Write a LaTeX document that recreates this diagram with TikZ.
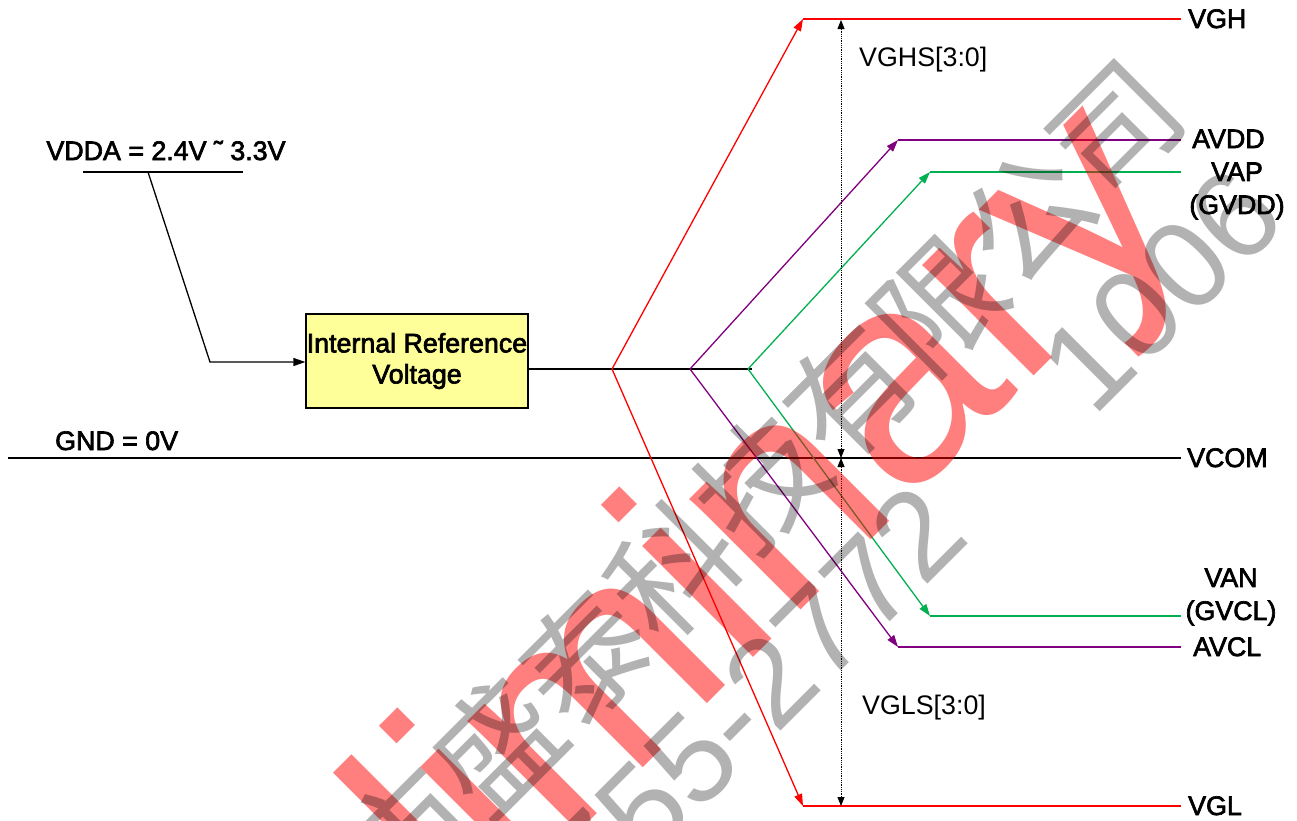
\documentclass[tikz,border=0pt]{standalone}
\usepackage{fontspec}
\setmainfont{Liberation Sans}
\newfontfamily\heavy[FakeBold=2.5]{Liberation Sans}
\newfontfamily\cjk{Noto Sans CJK SC}
\usetikzlibrary{arrows.meta}
\definecolor{vred}{RGB}{255,0,0}
\definecolor{vpurple}{RGB}{128,0,128}
\definecolor{vgreen}{RGB}{0,176,80}
\definecolor{boxyellow}{RGB}{255,255,153}
\begin{document}
\begin{tikzpicture}[x=1pt,y=-1pt,
  lbl/.style={inner sep=0pt, font=\heavy\fontsize{26.8}{33}\selectfont},
  note/.style={inner sep=0pt, font=\fontsize{26.8}{33}\selectfont},
  refbox/.style={draw=black, line width=1.3pt, fill=boxyellow, minimum width=222pt,
    minimum height=94pt, inner sep=0pt, align=center, font=\heavy\fontsize{26.8}{31}\selectfont},
  rail/.style={line width=2.2pt},
  ramp/.style={line width=1.3pt, -{Triangle[length=12pt,width=8pt]}},
  wire/.style={line width=1.3pt, black},
  feed/.style={wire, -{Triangle[length=12pt,width=8pt]}},
  dimline/.style={line width=0.8pt, densely dotted,
    {Triangle[length=9pt,width=7pt]}-{Triangle[length=9pt,width=7pt]}},
  wmred/.style={inner sep=0pt, text=red, text opacity=0.5, font=\fontsize{297}{300}\selectfont},
  wmgray/.style={inner sep=0pt, text=black, text opacity=0.3, font=\fontsize{125}{130}\selectfont}
]
\useasboundingbox (0,0) rectangle (1297,820);
\fill[white] (0,0) rectangle (1297,820);

% ---- input side ----
\node[lbl, anchor=base] (vdda) at (166,160) {VDDA = 2.4V ˜ 3.3V};
\coordinate (ulL) at (83,172);
\coordinate (ulR) at (243,172);
\coordinate (tap) at (148,172);
\coordinate (bend) at (210,362);
\draw[wire] (ulL) -- (ulR);
\node[refbox] (ref) at (417,361) {Internal Reference\\Voltage};
\draw[feed] (tap) -- (bend) -- (ref.west |- bend);

\node[lbl, anchor=base west] (gnd) at (55,450) {GND = 0V};

% ---- split points ----
\coordinate (outS) at (528,369);
\coordinate (vgS) at (612,369);
\coordinate (avS) at (690,369);
\coordinate (vpS) at (748,369);
\coordinate (outE) at (752,369);
\draw[wire] (outS) -- (outE);

% ---- corners and rail ends ----
\coordinate (vghC) at (803,19);   \coordinate (vghE) at (1181,19);
\coordinate (avddC) at (898,140); \coordinate (avddE) at (1181,140);
\coordinate (vapC) at (930,172);  \coordinate (vapE) at (1181,172);
\coordinate (vanC) at (930,616);  \coordinate (vanE) at (1181,616);
\coordinate (avclC) at (898,647); \coordinate (avclE) at (1181,647);
\coordinate (vglC) at (803,806);  \coordinate (vglE) at (1181,806);
\coordinate (gndL) at (8,458);    \coordinate (vcomE) at (1181,458);

\draw[line width=1.5pt] (gndL) -- (vcomE);

\draw[ramp, vred] (vgS) -- (vghC);
\draw[rail, vred] (vghC) -- (vghE);
\draw[ramp, vred] (vgS) -- (vglC);
\draw[rail, vred] (vglC) -- (vglE);

\draw[ramp, vpurple] (avS) -- (avddC);
\draw[rail, vpurple] (avddC) -- (avddE);
\draw[ramp, vpurple] (avS) -- (avclC);
\draw[rail, vpurple] (avclC) -- (avclE);

\draw[ramp, vgreen] (vpS) -- (vapC);
\draw[rail, vgreen] (vapC) -- (vapE);
\draw[ramp, vgreen] (vpS) -- (vanC);
\draw[rail, vgreen] (vanC) -- (vanE);

% ---- dimension arrows ----
\coordinate (dimT) at (841,20);
\coordinate (dimM) at (841,458);
\coordinate (dimB) at (841,806);
\draw[dimline] (dimT) -- (dimM);
\draw[dimline] (dimM) -- (dimB);
\node[note, anchor=base west] (vghs) at (859,66) {VGHS[3:0]};
\node[note, anchor=base west] (vgls) at (862,714) {VGLS[3:0]};

% ---- right labels ----
\node[lbl, anchor=base west] (lvgh) at (1188,28) {VGH};
\node[lbl, anchor=base west] (lavdd) at (1192,148) {AVDD};
\node[lbl, align=center, anchor=center] (lvap) at (1237,191) {VAP\\(GVDD)};
\node[lbl, anchor=base west] (lvcom) at (1187,467) {VCOM};
\node[lbl, align=center, anchor=center] (lvan) at (1231,597) {VAN\\(GVCL)};
\node[lbl, anchor=base west] (lavcl) at (1193,656) {AVCL};
\node[lbl, anchor=base west] (lvgl) at (1188,815) {VGL};

% ---- watermark ----
\begin{scope}
\clip (0,0) rectangle (1297,820);
\node[wmred, anchor=base west, rotate=45] (wmP) at (144.4,1266.2) {Preliminary};
\node[wmgray, anchor=base east, rotate=45] (wmA) at (1193,117) {\cjk 市盛泰科技有限公司};
\node[wmgray, anchor=base east, rotate=45] (wmB) at (1290,222) {0755-2772\hspace{170pt}1006};
\end{scope}
\end{tikzpicture}
\end{document}
